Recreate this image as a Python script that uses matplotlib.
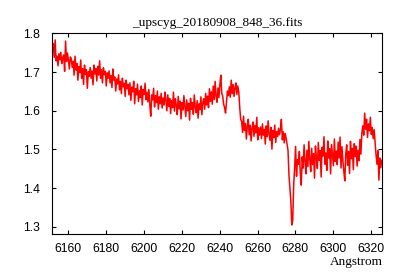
import numpy as np
from matplotlib import pyplot as plt

# spectrum header values (linear dispersion)
wl_start = 6151.6  # Angstrom
wl_step = 0.5      # Angstrom per pixel

# flux, 20 samples per 10 Angstrom
flux = [
    1.752, 1.774, 1.738, 1.783, 1.729, 1.741, 1.716, 1.747, 1.732, 1.751, 1.722, 1.737, 1.744, 1.702, 1.780, 1.727, 1.749, 1.731, 1.708, 1.739,
    1.735, 1.712, 1.728, 1.692, 1.741, 1.705, 1.722, 1.679, 1.714, 1.699, 1.731, 1.684, 1.709, 1.668, 1.718, 1.694, 1.706, 1.658, 1.701, 1.689,
    1.712, 1.684, 1.703, 1.667, 1.718, 1.695, 1.709, 1.677, 1.715, 1.692, 1.729, 1.684, 1.706, 1.672, 1.711, 1.693, 1.702, 1.664, 1.698, 1.684,
    1.703, 1.672, 1.691, 1.660, 1.708, 1.679, 1.687, 1.651, 1.682, 1.669, 1.693, 1.654, 1.676, 1.644, 1.684, 1.662, 1.671, 1.637, 1.679, 1.657,
    1.668, 1.641, 1.672, 1.627, 1.661, 1.649, 1.676, 1.618, 1.657, 1.641, 1.669, 1.624, 1.652, 1.634, 1.664, 1.615, 1.655, 1.642, 1.671, 1.629,
    1.648, 1.623, 1.655, 1.615, 1.586, 1.641, 1.628, 1.658, 1.610, 1.639, 1.621, 1.651, 1.604, 1.636, 1.618, 1.645, 1.607, 1.633, 1.615, 1.648,
    1.628, 1.600, 1.641, 1.611, 1.632, 1.593, 1.626, 1.608, 1.648, 1.599, 1.631, 1.614, 1.590, 1.637, 1.605, 1.625, 1.579, 1.621, 1.602, 1.639,
    1.612, 1.585, 1.628, 1.600, 1.619, 1.576, 1.632, 1.604, 1.621, 1.591, 1.641, 1.609, 1.595, 1.626, 1.581, 1.618, 1.603, 1.636, 1.590, 1.622,
    1.631, 1.604, 1.645, 1.615, 1.638, 1.608, 1.657, 1.624, 1.649, 1.617, 1.664, 1.629, 1.676, 1.637, 1.622, 1.659, 1.634, 1.667, 1.692, 1.645,
    1.638, 1.617, 1.608, 1.594, 1.624, 1.651, 1.639, 1.662, 1.635, 1.679, 1.644, 1.668, 1.637, 1.659, 1.672, 1.642, 1.664, 1.648, 1.608, 1.578,
    1.572, 1.544, 1.586, 1.549, 1.567, 1.527, 1.559, 1.578, 1.538, 1.563, 1.522, 1.555, 1.571, 1.534, 1.562, 1.543, 1.583, 1.525, 1.556, 1.537,
    1.558, 1.528, 1.566, 1.537, 1.552, 1.514, 1.561, 1.533, 1.574, 1.539, 1.524, 1.557, 1.501, 1.549, 1.531, 1.563, 1.518, 1.546, 1.534, 1.555,
    1.538, 1.552, 1.578, 1.525, 1.546, 1.517, 1.541, 1.529, 1.514, 1.498, 1.434, 1.402, 1.367, 1.305, 1.318, 1.409, 1.452, 1.508, 1.431, 1.474,
    1.462, 1.495, 1.438, 1.408, 1.481, 1.452, 1.512, 1.469, 1.437, 1.498, 1.456, 1.521, 1.474, 1.443, 1.503, 1.461, 1.489, 1.426, 1.509, 1.478,
    1.451, 1.518, 1.472, 1.497, 1.429, 1.506, 1.483, 1.533, 1.462, 1.491, 1.446, 1.522, 1.478, 1.502, 1.437, 1.513, 1.485, 1.458, 1.527, 1.469,
    1.496, 1.461, 1.519, 1.478, 1.532, 1.452, 1.507, 1.471, 1.443, 1.419, 1.488, 1.512, 1.459, 1.495, 1.438, 1.521, 1.476, 1.503, 1.448, 1.515,
    1.482, 1.509, 1.457, 1.498, 1.471, 1.526, 1.488, 1.542, 1.561, 1.537, 1.594, 1.552, 1.578, 1.531, 1.566, 1.548, 1.583, 1.539, 1.557, 1.528,
    1.551, 1.518, 1.486, 1.462, 1.497, 1.421, 1.478, 1.453, 1.472,
]

x_ticks = [6160, 6180, 6200, 6220, 6240, 6260, 6280, 6300, 6320]
y_ticks = [1.3, 1.4, 1.5, 1.6, 1.7, 1.8]

title = "_upscyg_20180908_848_36.fits"
xlabel = "Angstrom"

wl = wl_start + wl_step * np.arange(len(flux))

fig = plt.figure(figsize=(4, 2.8), dpi=100)
ax = fig.add_axes([0.1308, 0.1632, 0.8235, 0.7178])

ax.plot(wl, flux, color="red", lw=1.1)

ax.set_xlim(wl[0], wl[-1])
ax.set_ylim(1.281, 1.8)
ax.set_xticks(x_ticks)
ax.set_yticks(y_ticks)
ax.set_xticklabels([str(t) for t in x_ticks])
ax.set_yticklabels([f"{t:.1f}" for t in y_ticks])

ax.tick_params(direction="in", top=True, right=True, length=2.6, width=0.8,
               labelsize=8.8, labelfontfamily="Liberation Sans", colors="black")
ax.tick_params(axis="x", pad=6)
ax.tick_params(axis="y", pad=9)
for s in ax.spines.values():
    s.set_linewidth(0.8)

ax.set_title(title, fontsize=9.5, family="Liberation Serif", pad=5)
fig.text(383 / 400, 1 - 265 / 280, xlabel, ha="right", va="baseline",
         fontsize=9.5, family="Liberation Serif")

plt.savefig("out.png", dpi=100)
